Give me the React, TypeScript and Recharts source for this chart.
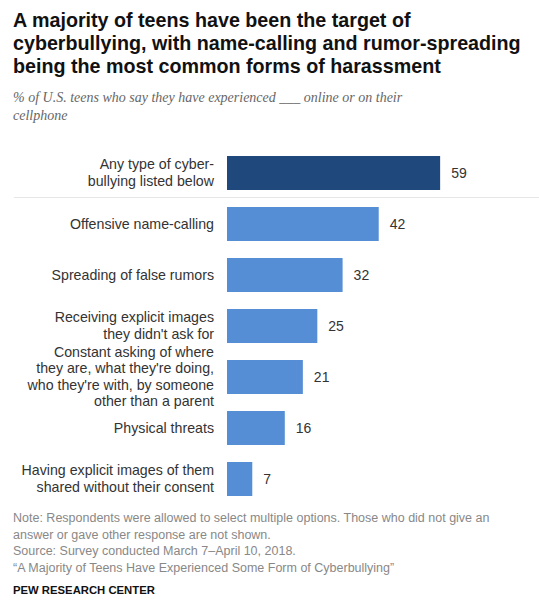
import { BarChart, Bar, XAxis, YAxis, Cell, LabelList } from 'recharts';

const categories = [
  'Any type of cyber-\nbullying listed below',
  'Offensive name-calling',
  'Spreading of false rumors',
  "Receiving explicit images\nthey didn't ask for",
  "Constant asking of where\nthey are, what they're doing,\nwho they're with, by someone\nother than a parent",
  'Physical threats',
  'Having explicit images of them\nshared without their consent',
];
const values = [59, 42, 32, 25, 21, 16, 7];

const data = categories.map((name, i) => ({ name, value: values[i] }));

const FONT = '"Liberation Sans", Arial, sans-serif';

function CategoryTick({ x, y, payload }: any) {
  const lines = String(payload.value).split('\n');
  const lh = 16.5;
  const start = y - ((lines.length - 1) * lh) / 2 + 5;
  return (
    <text x={x} y={start} textAnchor="end" fill="#333" fontSize={14.2} fontFamily={FONT}>
      {lines.map((l, i) => (
        <tspan key={i} x={x} dy={i === 0 ? 0 : lh}>
          {l}
        </tspan>
      ))}
    </text>
  );
}

export default function App() {
  return (
    <div
      style={{
        position: 'absolute',
        left: 0,
        top: 0,
        width: 539,
        height: 613,
        background: '#fff',
        fontFamily: FONT,
        overflow: 'hidden',
      }}
    >
      <div
        style={{
          position: 'absolute',
          left: 13,
          top: 9,
          fontSize: 19.7,
          lineHeight: '23px',
          fontWeight: 'bold',
          color: '#111',
          whiteSpace: 'nowrap',
        }}
      >
        A majority of teens have been the target of
        <br />
        cyberbullying, with name-calling and rumor-spreading
        <br />
        being the most common forms of harassment
      </div>
      <div
        style={{
          position: 'absolute',
          left: 13,
          top: 89,
          fontSize: 14,
          lineHeight: '18px',
          fontStyle: 'italic',
          fontFamily: '"Liberation Serif", serif',
          color: '#666',
          whiteSpace: 'nowrap',
        }}
      >
        % of U.S. teens who say they have experienced ___ online or on their
        <br />
        cellphone
      </div>

      <div
        style={{
          position: 'absolute',
          left: 14,
          top: 197,
          width: 525,
          height: 1,
          background: '#e6e6e6',
        }}
      />

      <div style={{ position: 'absolute', left: 0, top: 147 }}>
        <BarChart
          width={539}
          height={357}
          data={data}
          layout="vertical"
          margin={{ top: 0, right: 23, bottom: 0, left: 0 }}
        >
          <XAxis type="number" domain={[0, 80]} hide />
          <YAxis
            type="category"
            dataKey="name"
            width={227}
            axisLine={false}
            tickLine={false}
            tickMargin={7}
            interval={0}
            tick={<CategoryTick />}
          />
          <Bar dataKey="value" barSize={34} isAnimationActive={false}>
            {data.map((d, i) => (
              <Cell key={d.name} fill={i === 0 ? '#1f497d' : '#558ed5'} />
            ))}
            <LabelList
              dataKey="value"
              position="right"
              offset={11}
              fill="#333"
              fontSize={14}
              fontFamily={FONT}
            />
          </Bar>
        </BarChart>
      </div>

      <div
        style={{
          position: 'absolute',
          left: 13,
          top: 510,
          fontSize: 12.5,
          lineHeight: '16.5px',
          color: '#888',
          whiteSpace: 'nowrap',
        }}
      >
        Note: Respondents were allowed to select multiple options. Those who did not give an
        <br />
        answer or gave other response are not shown.
        <br />
        Source: Survey conducted March 7–April 10, 2018.
        <br />
        “A Majority of Teens Have Experienced Some Form of Cyberbullying”
      </div>
      <div
        style={{
          position: 'absolute',
          left: 13,
          top: 584,
          fontSize: 11.3,
          fontWeight: 'bold',
          color: '#111',
          whiteSpace: 'nowrap',
        }}
      >
        PEW RESEARCH CENTER
      </div>
    </div>
  );
}
